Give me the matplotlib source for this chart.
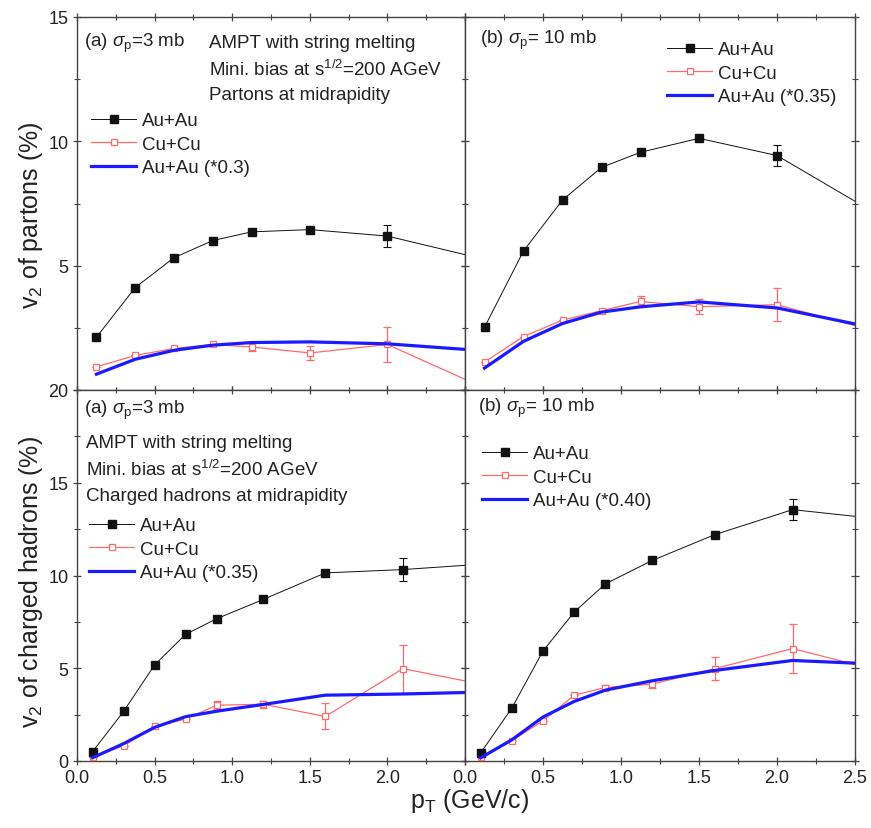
import matplotlib
matplotlib.use("Agg")
import matplotlib.pyplot as plt
from matplotlib.lines import Line2D
import numpy as np

plt.rcParams['font.family'] = ['Liberation Sans', 'DejaVu Sans']
plt.rcParams['mathtext.fontset'] = 'custom'
plt.rcParams['mathtext.rm'] = 'Liberation Sans'
plt.rcParams['mathtext.it'] = 'Liberation Sans:italic'
plt.rcParams['mathtext.bf'] = 'Liberation Sans:bold'

# --- data ---
# partons: pT bin centres; last point lies just outside the axis range
pt_partons = [0.125, 0.375, 0.625, 0.875, 1.125, 1.5, 2.0, 2.75]

# (a) sigma_p = 3 mb, partons
au_p3 = [2.12, 4.12, 5.32, 6.01, 6.36, 6.45, 6.19, 5.07]
au_p3_err = [0, 0, 0, 0, 0, 0, 0.43, 0]
cu_p3 = [0.93, 1.39, 1.67, 1.83, 1.73, 1.49, 1.83, -0.27]
cu_p3_err = [0, 0, 0, 0, 0.15, 0.28, 0.70, 0]
scale_p3 = 0.3

# (b) sigma_p = 10 mb, partons
au_p10 = [2.52, 5.59, 7.64, 8.95, 9.56, 10.12, 9.43, 6.67]
au_p10_err = [0, 0, 0, 0, 0, 0, 0.43, 0]
cu_p10 = [1.12, 2.15, 2.81, 3.19, 3.56, 3.35, 3.43, 2.17]
cu_p10_err = [0, 0, 0, 0, 0.23, 0.31, 0.67, 0]
scale_p10 = 0.35

# charged hadrons
pt_hadrons = [0.1, 0.3, 0.5, 0.7, 0.9, 1.2, 1.6, 2.1, 2.8]

# (a) sigma_p = 3 mb, charged hadrons
au_h3 = [0.50, 2.67, 5.18, 6.83, 7.67, 8.71, 10.14, 10.32, 10.72]
au_h3_err = [0, 0, 0, 0, 0, 0, 0.15, 0.63, 0]
cu_h3 = [0.20, 0.82, 1.86, 2.26, 3.01, 3.06, 2.40, 4.98, 3.82]
cu_h3_err = [0, 0, 0, 0, 0.2, 0.2, 0.70, 1.30, 0]
scale_h3 = 0.35

# (b) sigma_p = 10 mb, charged hadrons
au_h10 = [0.43, 2.85, 5.93, 8.03, 9.55, 10.81, 12.20, 13.55, 12.92]
au_h10_err = [0, 0, 0, 0, 0, 0, 0.2, 0.56, 0]
cu_h10 = [0.20, 1.09, 2.17, 3.55, 3.96, 4.14, 4.98, 6.06, 4.56]
cu_h10_err = [0, 0, 0, 0, 0.15, 0.2, 0.60, 1.30, 0]
scale_h10 = 0.40

RED = '#ff6a6a'
BLUE = '#1a1aff'
BLACK = '#111111'
TXT = '#222222'
W, H = 871, 829
FS = 13.5


def px_axes(x0, y0, x1, y1):
    return [x0 / W, 1 - y1 / H, (x1 - x0) / W, (y1 - y0) / H]


fig = plt.figure(figsize=(W / 100, H / 100), dpi=100)
ax_tl = fig.add_axes(px_axes(77, 18, 465, 391))
ax_tr = fig.add_axes(px_axes(465, 18, 855, 391))
ax_bl = fig.add_axes(px_axes(77, 391, 465, 762))
ax_br = fig.add_axes(px_axes(465, 391, 855, 762))

au_style = dict(color=BLACK, lw=0.7, marker='s', ms=6, mfc=BLACK, mec=BLACK)
cu_style = dict(color=RED, lw=0.9, marker='s', ms=5, mfc='white', mec=RED,
                mew=0.9)
sc_style = dict(color=BLUE, lw=2.3)


def draw(ax, pt, au, au_err, cu, cu_err, scale):
    pt = np.array(pt)
    au = np.array(au)
    ax.errorbar(pt, cu, yerr=cu_err, elinewidth=0.9, capsize=3,
                capthick=0.9, zorder=3, **cu_style)
    ax.errorbar(pt, au, yerr=au_err, elinewidth=0.8, capsize=3,
                capthick=0.8, zorder=4, **au_style)
    ax.plot(pt, au * scale, zorder=5, **sc_style)


def style(ax, ymax):
    ax.set_xlim(0, 2.5)
    ax.set_ylim(0, ymax)
    ax.set_xticks(np.arange(0, 2.51, 0.5))
    ax.set_xticks(np.arange(0.25, 2.5, 0.5), minor=True)
    ax.set_yticks(np.arange(0, ymax + 0.1, 5))
    ax.set_yticks(np.arange(2.5, ymax, 5), minor=True)
    ax.tick_params(which='both', direction='inout', top=True, right=True,
                   colors='#444444', labelcolor=TXT, labelsize=13)
    ax.tick_params(which='major', length=6, width=0.9, pad=3)
    ax.tick_params(which='minor', length=4, width=0.8)
    for s in ax.spines.values():
        s.set_color('#444444')
        s.set_linewidth(1.0)


panels = [
    (ax_tl, pt_partons, au_p3, au_p3_err, cu_p3, cu_p3_err, scale_p3, 15),
    (ax_tr, pt_partons, au_p10, au_p10_err, cu_p10, cu_p10_err, scale_p10, 15),
    (ax_bl, pt_hadrons, au_h3, au_h3_err, cu_h3, cu_h3_err, scale_h3, 20),
    (ax_br, pt_hadrons, au_h10, au_h10_err, cu_h10, cu_h10_err, scale_h10, 20),
]
for ax, pt, au, ae, cu, ce, sc, ymax in panels:
    draw(ax, pt, au, ae, cu, ce, sc)
    style(ax, ymax)

# tick labels like the original: no labels on inner edges
ax_tl.set_xticklabels([])
ax_tr.set_xticklabels([])
ax_tr.set_yticklabels([])
ax_br.set_yticklabels([])
ax_tl.set_yticklabels(['', '5', '10', '15'])
ax_bl.set_xticklabels(['0.0', '0.5', '1.0', '1.5', '2.0', ''])

fig.text(31 / W, 1 - 215 / H, 'v$_2$ of partons (%)', fontsize=18,
         color=TXT, rotation=90, ha='center', va='center')
fig.text(31 / W, 1 - 582 / H, 'v$_2$ of charged hadrons (%)', fontsize=18,
         color=TXT, rotation=90, ha='center', va='center')
fig.text(470 / W, 1 - 801 / H, r'p$_{\rm T}$ (GeV/c)', fontsize=18,
         color=TXT, ha='center', va='center')

sig3 = r'(a) $\sigma_{\rm p}$=3 mb'
sig10 = r'(b) $\sigma_{\rm p}$= 10 mb'
mini = r'Mini. bias at s$^{1/2}$=200 AGeV'
tkw = dict(fontsize=FS, color=TXT, va='center', ha='left')


def ftext(x, y, s):
    fig.text(x / W, 1 - y / H, s, **tkw)


ftext(84, 43, sig3)
ftext(209, 43, 'AMPT with string melting')
ftext(209, 70, mini)
ftext(209, 95, 'Partons at midrapidity')
ftext(480, 40, sig10)
ftext(84, 410, sig3)
ftext(86, 444, 'AMPT with string melting')
ftext(86, 470, mini)
ftext(86, 497, 'Charged hadrons at midrapidity')
ftext(478, 408, sig10)

leg_handles = [Line2D([], [], **au_style), Line2D([], [], **cu_style),
               Line2D([], [], **sc_style)]
labels = [
    ['Au+Au', 'Cu+Cu', 'Au+Au (*%.1f)' % scale_p3],
    ['Au+Au', 'Cu+Cu', 'Au+Au (*%.2f)' % scale_p10],
    ['Au+Au', 'Cu+Cu', 'Au+Au (*%.2f)' % scale_h3],
    ['Au+Au', 'Cu+Cu', 'Au+Au (*%.2f)' % scale_h10],
]
leg_pos = [(91, 113), (667, 42), (89, 518), (482, 446)]
for (ax, *_), lab, (lx, ly) in zip(panels, labels, leg_pos):
    leg = ax.legend(leg_handles, lab, loc='upper left',
                    bbox_to_anchor=(lx / W, 1 - ly / H),
                    bbox_transform=fig.transFigure, frameon=False,
                    fontsize=FS, handlelength=2.4, handletextpad=0.3,
                    labelspacing=0.35, borderpad=0, borderaxespad=0,
                    numpoints=1)
    for t in leg.get_texts():
        t.set_color(TXT)

fig.savefig('out.png', dpi=100)
